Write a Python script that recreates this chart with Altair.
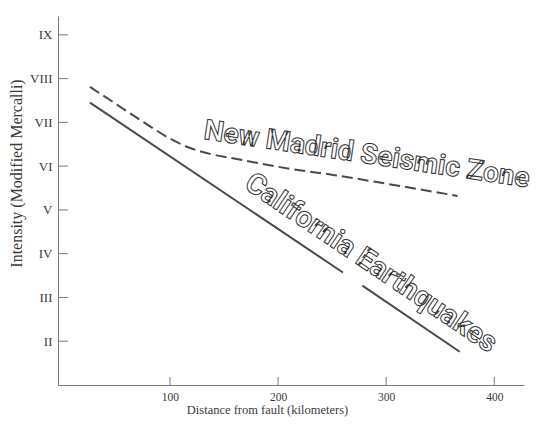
import altair as alt
import pandas as pd

# New Madrid Seismic Zone (dashed curve)
nm_km = [26, 50, 79, 100, 118, 137, 156, 211, 251, 300, 366]
nm_int = [7.81, 7.42, 6.95, 6.63, 6.42, 6.28, 6.19, 5.94, 5.80, 5.60, 5.32]

# California Earthquakes (solid line, broken where the label crosses it)
ca_km = [26, 260, 278, 368]
ca_int = [7.45, 3.57, 3.27, 1.76]
ca_seg = ["a", "a", "b", "b"]

# Axis ticks
x_ticks = [100, 200, 300, 400]
y_ticks = [2, 3, 4, 5, 6, 7, 8, 9]
roman = ["II", "III", "IV", "V", "VI", "VII", "VIII", "IX"]

# Annotation labels
labels = ["New Madrid Seismic Zone", "California Earthquakes"]
label_km = [282, 286]
label_int = [6.25, 3.79]
label_angle = [8.5, 34]

W, H = 466, 369
AX = "#7a7a7a"
TXT = "#3a3a3a"
SERIF = "Liberation Serif"
LABEL_FONT = "Roboto"

nm = pd.DataFrame({"km": nm_km, "intensity": nm_int})
ca = pd.DataFrame({"km": ca_km, "intensity": ca_int, "seg": ca_seg})
xt = pd.DataFrame({"km": x_ticks})
yt = pd.DataFrame({"intensity": y_ticks})

x_scale = alt.Scale(domain=[-3.6, 427.5], nice=False, zero=False)
y_scale = alt.Scale(domain=[1.0, 9.43], nice=False, zero=False)

label_expr = "{" + ",".join(f"'{v}':'{r}'" for v, r in zip(y_ticks, roman)) + "}[datum.value]"

x_axis = alt.Axis(
    values=x_ticks, grid=False, tickSize=0, labelPadding=6, domainColor=AX,
    labelColor=TXT, labelFont=SERIF, labelFontSize=11.5,
    title="Distance from fault (kilometers)", titleFont=SERIF, titleFontSize=12.5,
    titleFontWeight="normal", titleColor=TXT, titleX=209, titleY=18,
    titleAlign="center", titleBaseline="top",
)
y_axis = alt.Axis(
    values=y_ticks, grid=False, tickSize=0, labelPadding=6, domainColor=AX,
    labelColor=TXT, labelFont=SERIF, labelFontSize=13, labelExpr=label_expr,
    title="Intensity (Modified Mercalli)", titleFont=SERIF, titleFontSize=16,
    titleFontWeight="normal", titleColor=TXT, titleX=-42, titleY=157,
    titleAlign="center", titleBaseline="middle", titleAngle=270,
)

nm_line = alt.Chart(nm).mark_line(
    color="#4a4a4a", strokeWidth=2, strokeDash=[11, 5], interpolate="monotone"
).encode(
    x=alt.X("km:Q", scale=x_scale, axis=x_axis),
    y=alt.Y("intensity:Q", scale=y_scale, axis=y_axis),
)

ca_line = alt.Chart(ca).mark_line(color="#4a4a4a", strokeWidth=2).encode(
    x=alt.X("km:Q", scale=x_scale),
    y=alt.Y("intensity:Q", scale=y_scale),
    detail="seg:N",
)

y_tick_marks = alt.Chart(yt).mark_rule(color=AX, strokeWidth=1).encode(
    y=alt.Y("intensity:Q", scale=y_scale),
    x=alt.value(0),
    x2=alt.value(10),
)
x_tick_marks = alt.Chart(xt).mark_rule(color=AX, strokeWidth=1).encode(
    x=alt.X("km:Q", scale=x_scale),
    y=alt.value(H - 8),
    y2=alt.value(H),
)

lab_df = pd.DataFrame({"text": labels, "km": label_km, "intensity": label_int})
label_size = [28, 29]
text_layers = []
for i in range(len(labels)):
    text_layers.append(
        alt.Chart(lab_df.iloc[[i]]).mark_text(
            font=LABEL_FONT, fontWeight="bold", fontSize=label_size[i],
            fill="white", stroke="#333333", strokeWidth=1,
            align="center", baseline="middle", angle=label_angle[i],
        ).encode(
            x=alt.X("km:Q", scale=x_scale),
            y=alt.Y("intensity:Q", scale=y_scale),
            text="text:N",
        )
    )

chart = alt.layer(nm_line, ca_line, y_tick_marks, x_tick_marks, *text_layers).properties(
    width=W, height=H,
    autosize=alt.AutoSizeParams(type="none"),
    padding={"left": 50, "top": 8, "right": 8, "bottom": 39},
    background="white",
).configure_view(stroke=None)

chart.save("out.html", embed_options={"renderer": "svg", "actions": False})
